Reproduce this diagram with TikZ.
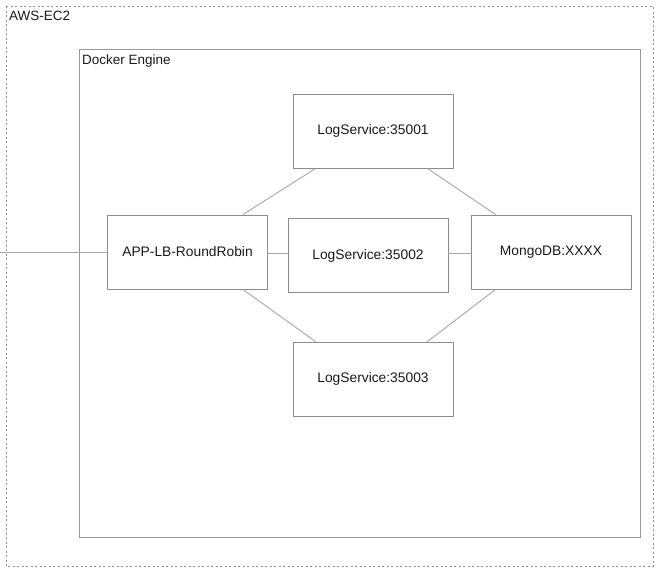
\documentclass[tikz,border=0pt]{standalone}
\usepackage{fontspec}
\setmainfont{Liberation Sans}
\begin{document}
\begin{tikzpicture}[x=1pt,y=-1pt,
  svc/.style={draw=black!45,line width=0.9pt,minimum width=160pt,minimum height=74pt,inner sep=0pt,font=\fontsize{13.8}{16}\selectfont,text=black!90},
  lbl/.style={anchor=north west,font=\fontsize{13.5}{16}\selectfont,text=black!90,inner sep=0pt},
  link/.style={draw=black!35,line width=0.9pt}]
\useasboundingbox (0,0) rectangle (661,573);
\draw[black!45,dash pattern=on 2pt off 2.5pt,line width=0.8pt] (6,6) rectangle (653,566);
\node[lbl] (aws) at (9,11) {AWS-EC2};
\draw[black!40,line width=0.9pt] (79,49) rectangle (640,537);
\node[lbl] (docker) at (82,55) {Docker Engine};
\node[svc] (ls1) at (373,131) {LogService:35001};
\node[svc] (lb) at (187.5,252) {APP-LB-RoundRobin};
\node[svc] (ls2) at (368,255.5) {LogService:35002};
\node[svc] (mongo) at (551,252) {MongoDB:XXXX};
\node[svc] (ls3) at (373,379) {LogService:35003};
\coordinate (in) at (0,252);
\draw[link] (in) -- (lb.west);
\draw[link] ([xshift=-25pt]lb.north east) -- ([xshift=23pt]ls1.south west);
\draw[link] ([xshift=-25pt]lb.south east) -- ([xshift=23pt]ls3.north west);
\draw[link] ([xshift=-26pt]ls1.south east) -- ([xshift=25pt]mongo.north west);
\draw[link] ([xshift=-26pt]ls3.north east) -- ([xshift=25pt]mongo.south west);
\draw[link] ([yshift=-1pt]lb.east) -- ([yshift=-1pt]lb.east -| ls2.west);
\draw[link] ([yshift=-1pt]mongo.west -| ls2.east) -- ([yshift=-1pt]mongo.west);
\end{tikzpicture}
\end{document}
